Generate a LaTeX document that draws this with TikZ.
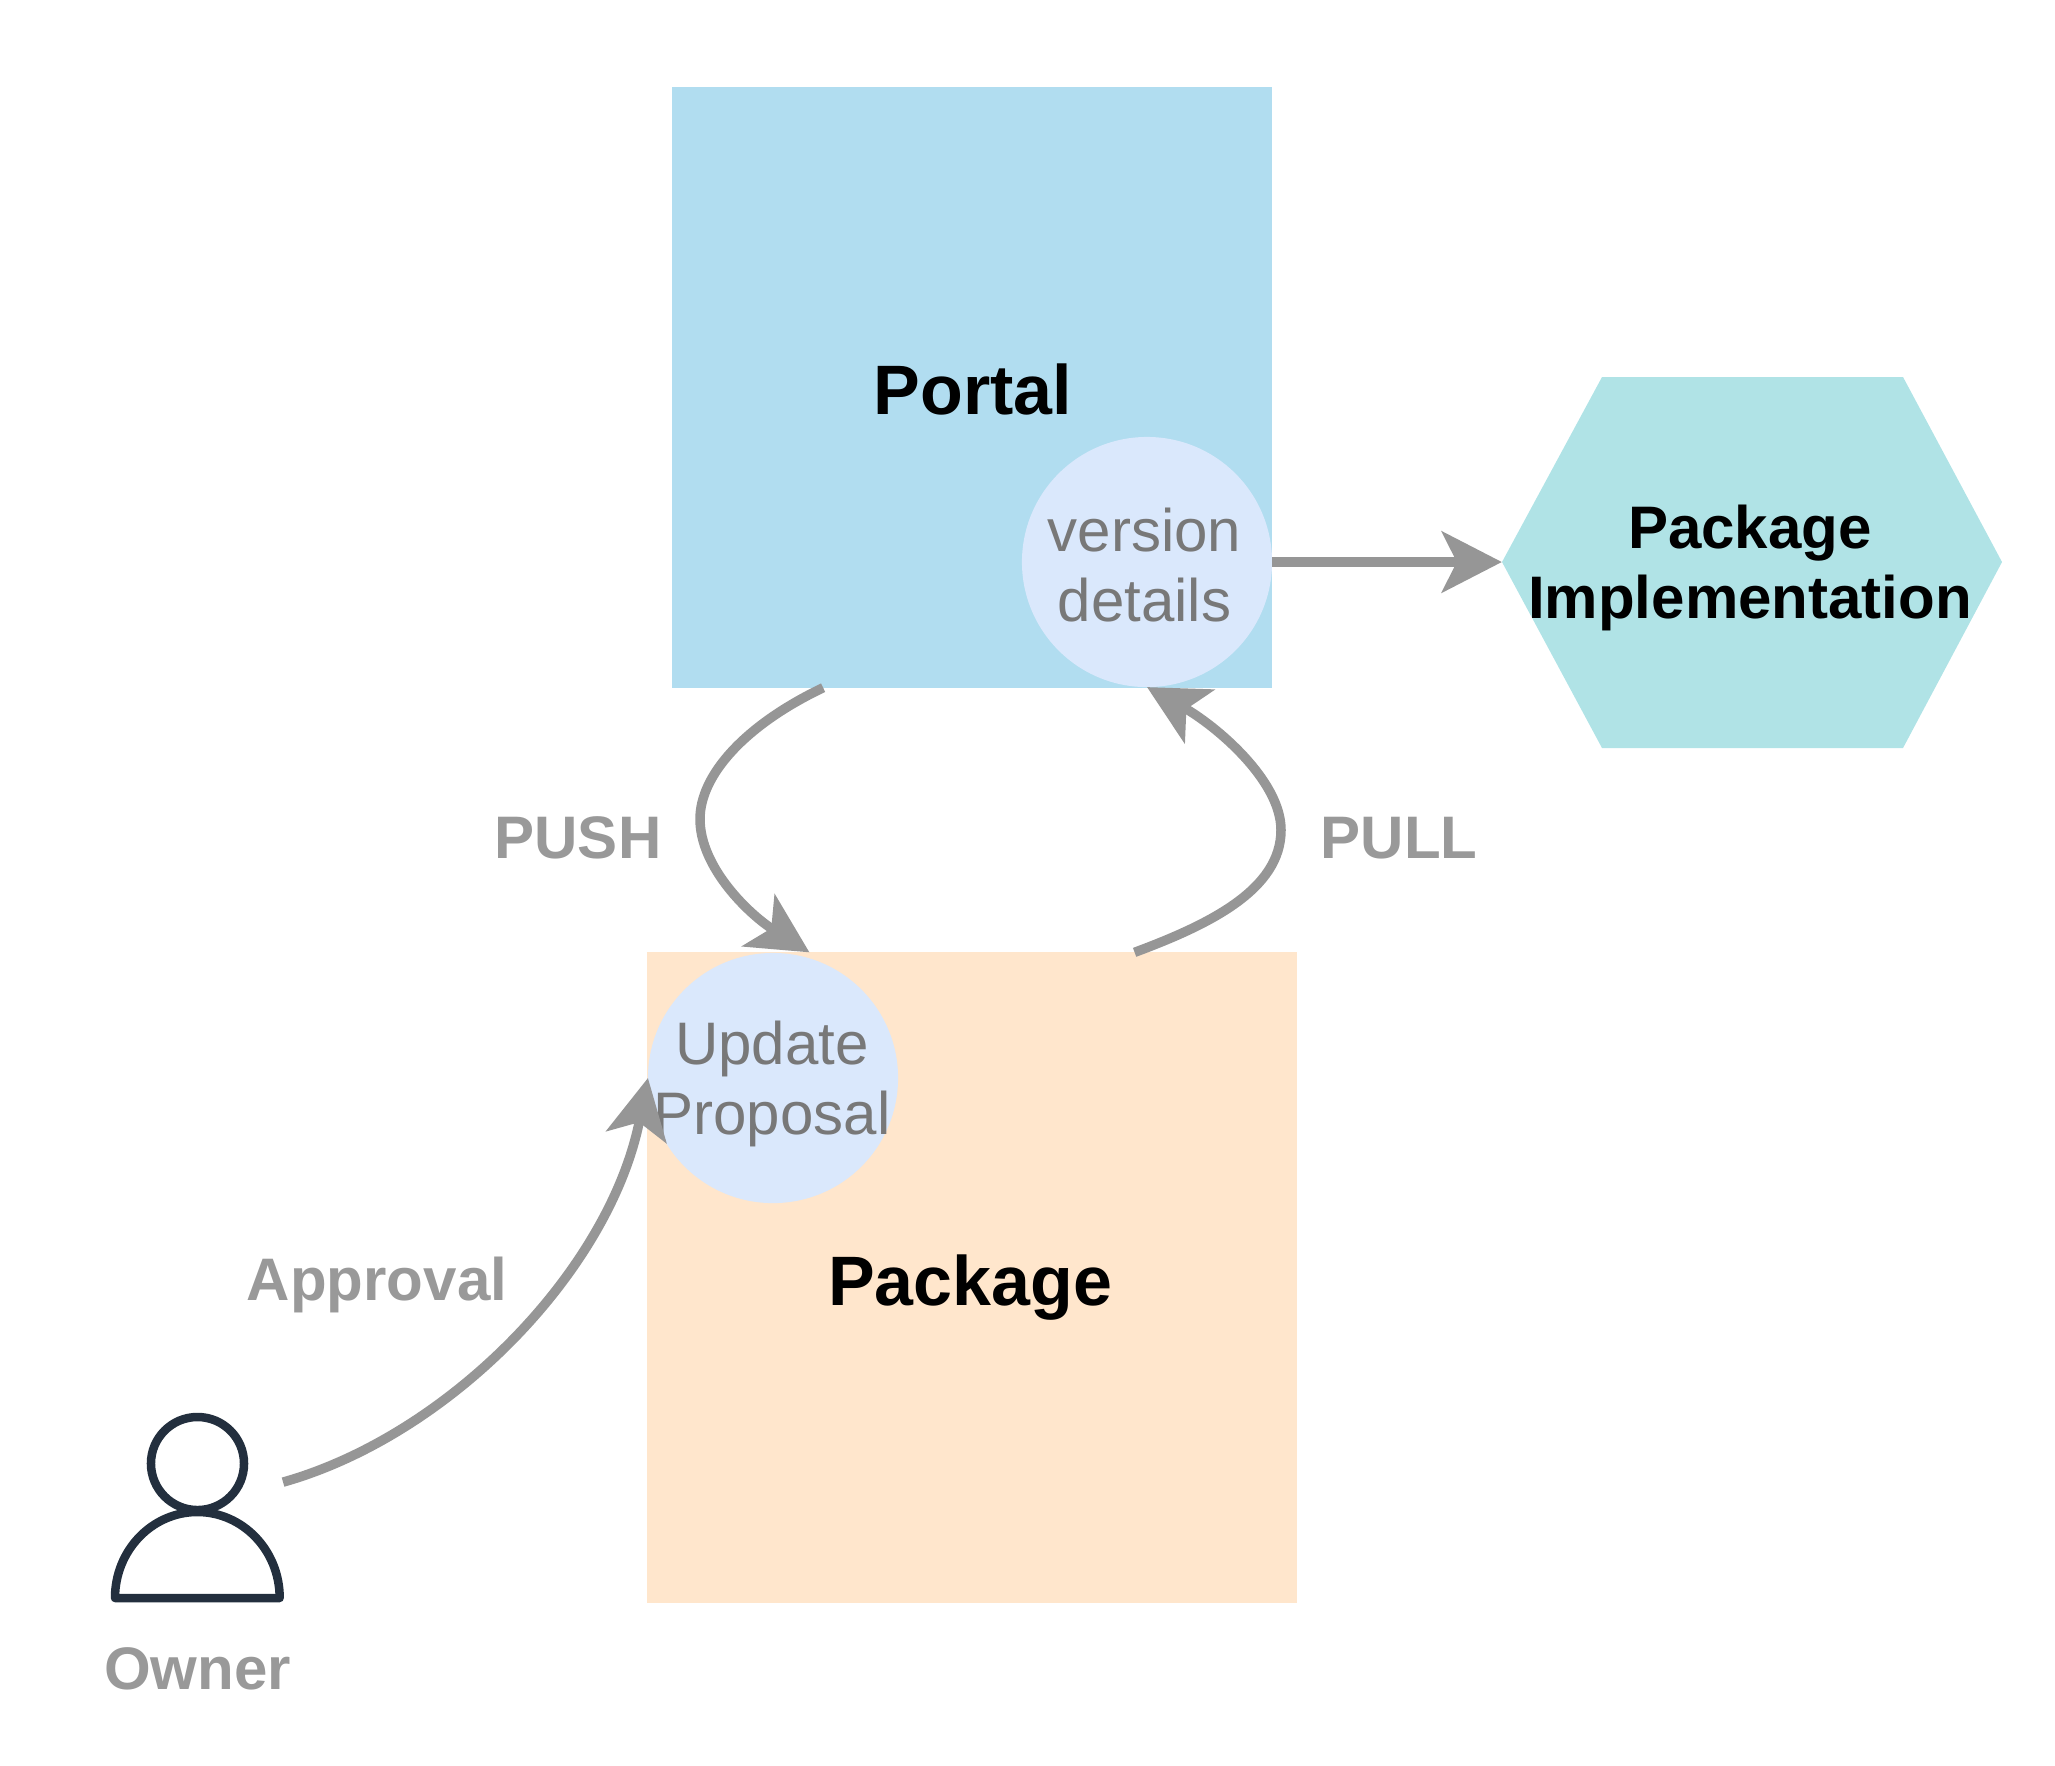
\documentclass[tikz,border=0pt]{standalone}
\usepackage{fontspec}
\setmainfont{Liberation Sans}
\usetikzlibrary{arrows.meta}
\usetikzlibrary{calc}
\definecolor{portalblue}{HTML}{B1DDF0}
\definecolor{packageorange}{HTML}{FFE6CC}
\definecolor{implteal}{HTML}{B0E3E6}
\definecolor{bubbleblue}{HTML}{DAE8FC}
\definecolor{linegray}{HTML}{969696}
\definecolor{ownerdark}{HTML}{232F3E}
\tikzset{
	tile/.style={inner sep=0pt,outer sep=0pt,minimum size=#1},
	bubble/.style={circle,fill=bubbleblue,inner sep=0pt,outer sep=0pt,minimum size=2.5cm},
	bubbletext/.style={align=center,inner sep=0pt,text=black!53,font=\fontsize{17.07}{20}\selectfont},
	flow/.style={draw=linegray,line width=0.095cm,-{Stealth[length=0.6cm,width=0.61cm,inset=0.15cm]}},
	edgetext/.style={anchor=base,text=black!40,font=\fontsize{17.07}{20}\selectfont\bfseries},
	bigtext/.style={anchor=base,font=\fontsize{19.9}{23}\selectfont\bfseries}
}
\begin{document}
\begin{tikzpicture}[x=0.01cm,y=-0.01cm]
	\useasboundingbox (0,0) rectangle (2055,1765);
	\node [tile=6cm,fill=portalblue] (portal) at (972,387.5) {};
	\node [tile=6.5cm,fill=packageorange] (package) at (972,1277.5) {};
	\fill [implteal] (1502,562) -- (1602,377) -- (1903,377) -- (2002,562) -- (1903,748) -- (1602,748) -- cycle;
	\node [inner sep=0pt,outer sep=0pt,minimum width=5cm,minimum height=3.71cm] (impl) at (1752,562) {};
	\node [inner sep=0pt,align=center,font=\fontsize{17.07}{20}\selectfont\bfseries] (impltext) at (1750,568) {Package\\Implementation};
	\node [bubble] (version) at (1147,562) {};
	\node [bubble] (update) at (773,1078) {};
	\node [bubbletext] (versiontext) at (1144.5,565) {version\\details};
	\node [bubbletext] (updatetext) at (772,1084) {Update\\Proposal};
	\node [bigtext] (portaltext) at (973,414) {Portal};
	\node [bigtext] (packagetext) at (970,1305) {Package};
	\node [edgetext] (pushtext) at (578,858.5) {PUSH};
	\node [edgetext] (pulltext) at (1399,858.5) {PULL};
	\node [edgetext] (approvaltext) at (377,1300) {Approval};
	% owner icon
	\node [inner sep=0pt,outer sep=0pt,minimum width=1.71cm,minimum height=1.88cm] (owner) at (197.5,1509) {};
	\draw [ownerdark,line width=0.085cm] (197.5,1463.5) circle [radius=0.465cm];
	\draw [ownerdark,line width=0.085cm,line join=round] (115,1598) arc [start angle=180,end angle=0,x radius=0.823cm,y radius=0.86cm] -- cycle;
	\node [edgetext] (ownertext) at (197.5,1689) {Owner};
	% connectors
	\draw [flow] ($(portal.south west)!0.252!(portal.south east)$) .. controls (745,725) and (700,775) .. (700,819) .. controls (700,868) and (750,915) .. ($(package.north west)!0.25!(package.north east)$);
	\draw [flow] ($(package.north west)!0.75!(package.north east)$) .. controls (1208,925) and (1281,890) .. (1281,830) .. controls (1281,780) and (1215,725) .. (version.south);
	\draw [flow] (version.east) -- (impl.west);
	\draw [flow] ($(owner.north east)!0.357!(owner.south east)$) .. controls (450,1435) and (610,1270) .. (update.west);
\end{tikzpicture}
\end{document}
